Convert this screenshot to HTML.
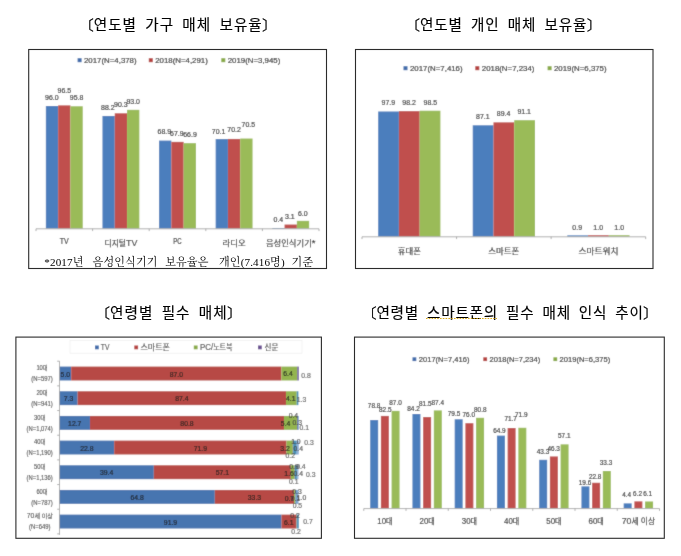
<!DOCTYPE html>
<html lang="ko"><head><meta charset="utf-8"><title>매체 보유율 및 필수 매체</title>
<style>
html,body{margin:0;padding:0;background:#fff;}
body{width:681px;height:556px;overflow:hidden;}
svg{display:block;font-family:'Liberation Sans','Noto Sans CJK KR',sans-serif;}
svg text{white-space:pre;}
svg .br{font-family:'NanumGothic','Noto Sans CJK KR',sans-serif;font-weight:400;}
</style></head><body>
<svg width="681" height="556" viewBox="0 0 681 556">
<filter id="soft" x="0" y="0" width="681" height="556" filterUnits="userSpaceOnUse"><feConvolveMatrix order="3" kernelMatrix="0.02 0.08 0.02 0.08 0.60 0.08 0.02 0.08 0.02" divisor="1" edgeMode="duplicate" preserveAlpha="true"/></filter>
<g filter="url(#soft)">
<rect x="-5" y="-5" width="691" height="566" fill="#ffffff"/>
<rect x="77.60" y="58.20" width="4.00" height="4.00" fill="#3f6cab" />
<text x="84.00" y="63.04" font-size="7.9" fill="#2b2b2b" stroke="#2b2b2b" stroke-width="0.18" textLength="52.60" lengthAdjust="spacingAndGlyphs" >2017(N=4,378)</text>
<rect x="148.80" y="58.20" width="4.00" height="4.00" fill="#b5403d" />
<text x="155.20" y="63.04" font-size="7.9" fill="#2b2b2b" stroke="#2b2b2b" stroke-width="0.18" textLength="52.60" lengthAdjust="spacingAndGlyphs" >2018(N=4,291)</text>
<rect x="221.30" y="58.20" width="4.00" height="4.00" fill="#88aa45" />
<text x="227.70" y="63.04" font-size="7.9" fill="#2b2b2b" stroke="#2b2b2b" stroke-width="0.18" textLength="52.60" lengthAdjust="spacingAndGlyphs" >2019(N=3,945)</text>
<rect x="45.85" y="106.00" width="12.30" height="122.50" fill="#4c7ebd" />
<rect x="58.15" y="105.37" width="12.30" height="123.13" fill="#c0504d" />
<rect x="70.45" y="106.26" width="12.30" height="122.24" fill="#9abb58" />
<rect x="102.45" y="115.96" width="12.30" height="112.54" fill="#4c7ebd" />
<rect x="114.75" y="113.28" width="12.30" height="115.22" fill="#c0504d" />
<rect x="127.05" y="109.83" width="12.30" height="118.67" fill="#9abb58" />
<rect x="159.05" y="140.58" width="12.30" height="87.92" fill="#4c7ebd" />
<rect x="171.35" y="141.86" width="12.30" height="86.64" fill="#c0504d" />
<rect x="183.65" y="143.14" width="12.30" height="85.36" fill="#9abb58" />
<rect x="215.65" y="139.05" width="12.30" height="89.45" fill="#4c7ebd" />
<rect x="227.95" y="138.92" width="12.30" height="89.58" fill="#c0504d" />
<rect x="240.25" y="138.54" width="12.30" height="89.96" fill="#9abb58" />
<rect x="272.25" y="227.99" width="12.30" height="0.51" fill="#4c7ebd" />
<rect x="284.55" y="224.54" width="12.30" height="3.96" fill="#c0504d" />
<rect x="296.85" y="220.84" width="12.30" height="7.66" fill="#9abb58" />
<line x1="36.00" y1="228.80" x2="319.00" y2="228.80" stroke="#9a9a9a" stroke-width="0.8"/>
<line x1="36.00" y1="228.80" x2="36.00" y2="231.10" stroke="#9a9a9a" stroke-width="0.8"/>
<line x1="92.60" y1="228.80" x2="92.60" y2="231.10" stroke="#9a9a9a" stroke-width="0.8"/>
<line x1="149.20" y1="228.80" x2="149.20" y2="231.10" stroke="#9a9a9a" stroke-width="0.8"/>
<line x1="205.80" y1="228.80" x2="205.80" y2="231.10" stroke="#9a9a9a" stroke-width="0.8"/>
<line x1="262.40" y1="228.80" x2="262.40" y2="231.10" stroke="#9a9a9a" stroke-width="0.8"/>
<line x1="319.00" y1="228.80" x2="319.00" y2="231.10" stroke="#9a9a9a" stroke-width="0.8"/>
<text x="51.80" y="99.60" font-size="7.5" text-anchor="middle" fill="#2f2f2f" stroke="#2f2f2f" stroke-width="0.18" textLength="13.57" lengthAdjust="spacingAndGlyphs" >96.0</text>
<text x="64.40" y="93.40" font-size="7.5" text-anchor="middle" fill="#2f2f2f" stroke="#2f2f2f" stroke-width="0.18" textLength="13.57" lengthAdjust="spacingAndGlyphs" >96.5</text>
<text x="76.60" y="100.00" font-size="7.5" text-anchor="middle" fill="#2f2f2f" stroke="#2f2f2f" stroke-width="0.18" textLength="13.57" lengthAdjust="spacingAndGlyphs" >95.8</text>
<text x="107.80" y="109.80" font-size="7.5" text-anchor="middle" fill="#2f2f2f" stroke="#2f2f2f" stroke-width="0.18" textLength="13.57" lengthAdjust="spacingAndGlyphs" >88.2</text>
<text x="120.80" y="107.10" font-size="7.5" text-anchor="middle" fill="#2f2f2f" stroke="#2f2f2f" stroke-width="0.18" textLength="13.57" lengthAdjust="spacingAndGlyphs" >90.3</text>
<text x="133.20" y="103.90" font-size="7.5" text-anchor="middle" fill="#2f2f2f" stroke="#2f2f2f" stroke-width="0.18" textLength="13.57" lengthAdjust="spacingAndGlyphs" >93.0</text>
<text x="164.30" y="134.10" font-size="7.5" text-anchor="middle" fill="#2f2f2f" stroke="#2f2f2f" stroke-width="0.18" textLength="13.57" lengthAdjust="spacingAndGlyphs" >68.9</text>
<text x="176.90" y="135.60" font-size="7.5" text-anchor="middle" fill="#2f2f2f" stroke="#2f2f2f" stroke-width="0.18" textLength="13.57" lengthAdjust="spacingAndGlyphs" >67.9</text>
<text x="190.00" y="136.70" font-size="7.5" text-anchor="middle" fill="#2f2f2f" stroke="#2f2f2f" stroke-width="0.18" textLength="13.57" lengthAdjust="spacingAndGlyphs" >66.9</text>
<text x="218.60" y="134.10" font-size="7.5" text-anchor="middle" fill="#2f2f2f" stroke="#2f2f2f" stroke-width="0.18" textLength="13.57" lengthAdjust="spacingAndGlyphs" >70.1</text>
<text x="234.10" y="132.30" font-size="7.5" text-anchor="middle" fill="#2f2f2f" stroke="#2f2f2f" stroke-width="0.18" textLength="13.57" lengthAdjust="spacingAndGlyphs" >70.2</text>
<text x="248.40" y="127.00" font-size="7.5" text-anchor="middle" fill="#2f2f2f" stroke="#2f2f2f" stroke-width="0.18" textLength="13.57" lengthAdjust="spacingAndGlyphs" >70.5</text>
<text x="278.40" y="222.20" font-size="7.5" text-anchor="middle" fill="#2f2f2f" stroke="#2f2f2f" stroke-width="0.18" textLength="9.70" lengthAdjust="spacingAndGlyphs" >0.4</text>
<text x="289.90" y="219.00" font-size="7.5" text-anchor="middle" fill="#2f2f2f" stroke="#2f2f2f" stroke-width="0.18" textLength="9.70" lengthAdjust="spacingAndGlyphs" >3.1</text>
<text x="302.80" y="215.80" font-size="7.5" text-anchor="middle" fill="#2f2f2f" stroke="#2f2f2f" stroke-width="0.18" textLength="9.70" lengthAdjust="spacingAndGlyphs" >6.0</text>
<text x="64.30" y="243.90" font-size="8.3" text-anchor="middle" fill="#333333" stroke="#333333" stroke-width="0.18" textLength="9.00" lengthAdjust="spacingAndGlyphs" >TV</text>
<text x="120.90" y="245.60" font-size="7.7" text-anchor="middle" fill="#333333" stroke="#333333" stroke-width="0.18" textLength="32.80" lengthAdjust="spacingAndGlyphs" >디지털<tspan font-size="8.70">TV</tspan></text>
<text x="177.50" y="243.90" font-size="8.3" text-anchor="middle" fill="#333333" stroke="#333333" stroke-width="0.18" textLength="8.40" lengthAdjust="spacingAndGlyphs" >PC</text>
<text x="234.10" y="245.60" font-size="7.7" text-anchor="middle" fill="#333333" stroke="#333333" stroke-width="0.18" textLength="23.00" lengthAdjust="spacingAndGlyphs" >라디오</text>
<text x="290.70" y="245.60" font-size="7.7" text-anchor="middle" fill="#333333" stroke="#333333" stroke-width="0.18" textLength="49.50" lengthAdjust="spacingAndGlyphs" >음성인식기기<tspan font-size="8.70">*</tspan></text>
<rect x="403.50" y="66.20" width="4.00" height="4.00" fill="#3f6cab" />
<text x="410.00" y="71.04" font-size="7.9" fill="#2b2b2b" stroke="#2b2b2b" stroke-width="0.18" textLength="52.60" lengthAdjust="spacingAndGlyphs" >2017(N=7,416)</text>
<rect x="475.30" y="66.20" width="4.00" height="4.00" fill="#b5403d" />
<text x="481.80" y="71.04" font-size="7.9" fill="#2b2b2b" stroke="#2b2b2b" stroke-width="0.18" textLength="52.60" lengthAdjust="spacingAndGlyphs" >2018(N=7,234)</text>
<rect x="547.60" y="66.20" width="4.00" height="4.00" fill="#88aa45" />
<text x="554.00" y="71.04" font-size="7.9" fill="#2b2b2b" stroke="#2b2b2b" stroke-width="0.18" textLength="52.60" lengthAdjust="spacingAndGlyphs" >2019(N=6,375)</text>
<rect x="378.16" y="111.48" width="20.75" height="125.02" fill="#4c7ebd" />
<rect x="398.91" y="111.10" width="20.75" height="125.40" fill="#c0504d" />
<rect x="419.66" y="110.72" width="20.75" height="125.78" fill="#9abb58" />
<rect x="472.73" y="125.27" width="20.75" height="111.23" fill="#4c7ebd" />
<rect x="493.48" y="122.34" width="20.75" height="114.16" fill="#c0504d" />
<rect x="514.23" y="120.17" width="20.75" height="116.33" fill="#9abb58" />
<rect x="567.29" y="235.35" width="20.75" height="1.15" fill="#4c7ebd" />
<rect x="588.04" y="235.22" width="20.75" height="1.28" fill="#c0504d" />
<rect x="608.79" y="235.22" width="20.75" height="1.28" fill="#9abb58" />
<line x1="362.00" y1="236.80" x2="645.70" y2="236.80" stroke="#9a9a9a" stroke-width="0.8"/>
<line x1="362.00" y1="236.80" x2="362.00" y2="239.10" stroke="#9a9a9a" stroke-width="0.8"/>
<line x1="456.57" y1="236.80" x2="456.57" y2="239.10" stroke="#9a9a9a" stroke-width="0.8"/>
<line x1="551.13" y1="236.80" x2="551.13" y2="239.10" stroke="#9a9a9a" stroke-width="0.8"/>
<line x1="645.70" y1="236.80" x2="645.70" y2="239.10" stroke="#9a9a9a" stroke-width="0.8"/>
<text x="388.40" y="105.00" font-size="7.5" text-anchor="middle" fill="#2f2f2f" stroke="#2f2f2f" stroke-width="0.18" textLength="13.57" lengthAdjust="spacingAndGlyphs" >97.9</text>
<text x="409.10" y="105.00" font-size="7.5" text-anchor="middle" fill="#2f2f2f" stroke="#2f2f2f" stroke-width="0.18" textLength="13.57" lengthAdjust="spacingAndGlyphs" >98.2</text>
<text x="430.40" y="105.00" font-size="7.5" text-anchor="middle" fill="#2f2f2f" stroke="#2f2f2f" stroke-width="0.18" textLength="13.57" lengthAdjust="spacingAndGlyphs" >98.5</text>
<text x="482.80" y="118.80" font-size="7.5" text-anchor="middle" fill="#2f2f2f" stroke="#2f2f2f" stroke-width="0.18" textLength="13.57" lengthAdjust="spacingAndGlyphs" >87.1</text>
<text x="503.60" y="115.80" font-size="7.5" text-anchor="middle" fill="#2f2f2f" stroke="#2f2f2f" stroke-width="0.18" textLength="13.57" lengthAdjust="spacingAndGlyphs" >89.4</text>
<text x="524.20" y="114.00" font-size="7.5" text-anchor="middle" fill="#2f2f2f" stroke="#2f2f2f" stroke-width="0.18" textLength="13.57" lengthAdjust="spacingAndGlyphs" >91.1</text>
<text x="577.20" y="230.00" font-size="7.5" text-anchor="middle" fill="#2f2f2f" stroke="#2f2f2f" stroke-width="0.18" textLength="9.70" lengthAdjust="spacingAndGlyphs" >0.9</text>
<text x="598.20" y="230.00" font-size="7.5" text-anchor="middle" fill="#2f2f2f" stroke="#2f2f2f" stroke-width="0.18" textLength="9.70" lengthAdjust="spacingAndGlyphs" >1.0</text>
<text x="619.20" y="230.00" font-size="7.5" text-anchor="middle" fill="#2f2f2f" stroke="#2f2f2f" stroke-width="0.18" textLength="9.70" lengthAdjust="spacingAndGlyphs" >1.0</text>
<text x="409.28" y="253.60" font-size="7.8" text-anchor="middle" fill="#333333" stroke="#333333" stroke-width="0.18" textLength="23.20" lengthAdjust="spacingAndGlyphs" >휴대폰</text>
<text x="503.85" y="253.60" font-size="7.8" text-anchor="middle" fill="#333333" stroke="#333333" stroke-width="0.18" textLength="31.00" lengthAdjust="spacingAndGlyphs" >스마트폰</text>
<text x="598.42" y="253.60" font-size="7.8" text-anchor="middle" fill="#333333" stroke="#333333" stroke-width="0.18" textLength="40.00" lengthAdjust="spacingAndGlyphs" >스마트워치</text>
<rect x="70" y="340.6" width="232" height="12.6" fill="#fff" stroke="#ececec" stroke-width="0.6"/>
<rect x="95.00" y="345.50" width="3.80" height="3.80" fill="#3f6cab" />
<text x="100.80" y="350.14" font-size="8.51" fill="#505050" stroke="#505050" stroke-width="0.18" textLength="8.60" lengthAdjust="spacingAndGlyphs" >TV</text>
<rect x="134.30" y="345.50" width="3.80" height="3.80" fill="#b5403d" />
<text x="140.50" y="350.14" font-size="7.6" fill="#505050" stroke="#505050" stroke-width="0.18" textLength="29.50" lengthAdjust="spacingAndGlyphs" >스마트폰</text>
<rect x="193.80" y="345.50" width="3.80" height="3.80" fill="#88aa45" />
<text x="200.00" y="350.14" font-size="7.6" fill="#505050" stroke="#505050" stroke-width="0.18" textLength="32.50" lengthAdjust="spacingAndGlyphs" ><tspan font-size="8.59">PC/</tspan>노트북</text>
<rect x="258.00" y="345.50" width="3.80" height="3.80" fill="#6a4f92" />
<text x="264.50" y="350.14" font-size="7.6" fill="#505050" stroke="#505050" stroke-width="0.18" textLength="13.80" lengthAdjust="spacingAndGlyphs" >신문</text>
<rect x="59.50" y="366.58" width="11.70" height="13.90" fill="#4674b0" />
<rect x="71.20" y="366.58" width="210.20" height="13.90" fill="#b74a44" />
<rect x="281.40" y="366.58" width="15.90" height="13.90" fill="#93b450" />
<rect x="297.30" y="366.58" width="1.50" height="13.90" fill="#6a5a96" />
<rect x="59.50" y="391.25" width="18.10" height="13.90" fill="#4674b0" />
<rect x="77.60" y="391.25" width="208.40" height="13.90" fill="#b74a44" />
<rect x="286.00" y="391.25" width="10.70" height="13.90" fill="#93b450" />
<rect x="296.70" y="391.25" width="1.70" height="13.90" fill="#4a91b5" />
<rect x="59.50" y="415.93" width="30.50" height="13.90" fill="#4674b0" />
<rect x="90.00" y="415.93" width="194.00" height="13.90" fill="#b74a44" />
<rect x="284.00" y="415.93" width="13.00" height="13.90" fill="#93b450" />
<rect x="297.00" y="415.93" width="0.80" height="13.90" fill="#6a5a96" />
<rect x="297.80" y="415.93" width="0.60" height="13.90" fill="#4a91b5" />
<rect x="298.40" y="415.93" width="0.40" height="13.90" fill="#5f8fc4" />
<rect x="59.50" y="440.59" width="54.70" height="13.90" fill="#4674b0" />
<rect x="114.20" y="440.59" width="172.30" height="13.90" fill="#b74a44" />
<rect x="286.50" y="440.59" width="6.30" height="13.90" fill="#93b450" />
<rect x="292.80" y="440.59" width="0.40" height="13.90" fill="#6a5a96" />
<rect x="293.20" y="440.59" width="3.20" height="13.90" fill="#4a91b5" />
<rect x="296.40" y="440.59" width="1.30" height="13.90" fill="#5f8fc4" />
<rect x="297.70" y="440.59" width="1.10" height="13.90" fill="#8fb0d8" />
<rect x="59.50" y="465.27" width="94.30" height="13.90" fill="#4674b0" />
<rect x="153.80" y="465.27" width="137.00" height="13.90" fill="#b74a44" />
<rect x="290.80" y="465.27" width="3.80" height="13.90" fill="#93b450" />
<rect x="294.60" y="465.27" width="0.30" height="13.90" fill="#6a5a96" />
<rect x="294.90" y="465.27" width="1.90" height="13.90" fill="#4a91b5" />
<rect x="296.80" y="465.27" width="0.80" height="13.90" fill="#5f8fc4" />
<rect x="297.60" y="465.27" width="0.70" height="13.90" fill="#8fb0d8" />
<rect x="298.30" y="465.27" width="0.50" height="13.90" fill="#b9cbe6" />
<rect x="59.50" y="489.94" width="155.30" height="13.90" fill="#4674b0" />
<rect x="214.80" y="489.94" width="79.30" height="13.90" fill="#b74a44" />
<rect x="294.10" y="489.94" width="1.30" height="13.90" fill="#93b450" />
<rect x="295.40" y="489.94" width="0.20" height="13.90" fill="#6a5a96" />
<rect x="295.60" y="489.94" width="0.60" height="13.90" fill="#4a91b5" />
<rect x="296.20" y="489.94" width="1.60" height="13.90" fill="#5f8fc4" />
<rect x="297.80" y="489.94" width="0.80" height="13.90" fill="#8fb0d8" />
<rect x="59.50" y="514.61" width="222.00" height="13.90" fill="#4674b0" />
<rect x="281.50" y="514.61" width="14.60" height="13.90" fill="#b74a44" />
<rect x="296.10" y="514.61" width="0.50" height="13.90" fill="#93b450" />
<rect x="296.60" y="514.61" width="0.50" height="13.90" fill="#6a5a96" />
<rect x="297.10" y="514.61" width="1.70" height="13.90" fill="#4a91b5" />
<line x1="59.50" y1="361.20" x2="59.50" y2="534.89" stroke="#9a9a9a" stroke-width="0.8"/>
<line x1="57.20" y1="361.20" x2="59.50" y2="361.20" stroke="#9a9a9a" stroke-width="0.8"/>
<line x1="57.20" y1="385.87" x2="59.50" y2="385.87" stroke="#9a9a9a" stroke-width="0.8"/>
<line x1="57.20" y1="410.54" x2="59.50" y2="410.54" stroke="#9a9a9a" stroke-width="0.8"/>
<line x1="57.20" y1="435.21" x2="59.50" y2="435.21" stroke="#9a9a9a" stroke-width="0.8"/>
<line x1="57.20" y1="459.88" x2="59.50" y2="459.88" stroke="#9a9a9a" stroke-width="0.8"/>
<line x1="57.20" y1="484.55" x2="59.50" y2="484.55" stroke="#9a9a9a" stroke-width="0.8"/>
<line x1="57.20" y1="509.22" x2="59.50" y2="509.22" stroke="#9a9a9a" stroke-width="0.8"/>
<line x1="57.20" y1="533.89" x2="59.50" y2="533.89" stroke="#9a9a9a" stroke-width="0.8"/>
<text x="42.00" y="370.33" font-size="6.2" text-anchor="middle" fill="#4a4a4a" stroke="#4a4a4a" stroke-width="0.12" textLength="11.20" lengthAdjust="spacingAndGlyphs" ><tspan font-size="7.01">10</tspan>대</text>
<text x="42.00" y="381.33" font-size="6.9" text-anchor="middle" fill="#4a4a4a" stroke="#4a4a4a" stroke-width="0.12" textLength="21.60" lengthAdjust="spacingAndGlyphs" >(N=597)</text>
<text x="42.00" y="395.00" font-size="6.2" text-anchor="middle" fill="#4a4a4a" stroke="#4a4a4a" stroke-width="0.12" textLength="11.20" lengthAdjust="spacingAndGlyphs" ><tspan font-size="7.01">20</tspan>대</text>
<text x="42.00" y="406.00" font-size="6.9" text-anchor="middle" fill="#4a4a4a" stroke="#4a4a4a" stroke-width="0.12" textLength="21.60" lengthAdjust="spacingAndGlyphs" >(N=941)</text>
<text x="39.70" y="419.68" font-size="6.2" text-anchor="middle" fill="#4a4a4a" stroke="#4a4a4a" stroke-width="0.12" textLength="11.20" lengthAdjust="spacingAndGlyphs" ><tspan font-size="7.01">30</tspan>대</text>
<text x="39.70" y="430.68" font-size="6.9" text-anchor="middle" fill="#4a4a4a" stroke="#4a4a4a" stroke-width="0.12" textLength="26.20" lengthAdjust="spacingAndGlyphs" >(N=1,074)</text>
<text x="39.70" y="444.34" font-size="6.2" text-anchor="middle" fill="#4a4a4a" stroke="#4a4a4a" stroke-width="0.12" textLength="11.20" lengthAdjust="spacingAndGlyphs" ><tspan font-size="7.01">40</tspan>대</text>
<text x="39.70" y="455.34" font-size="6.9" text-anchor="middle" fill="#4a4a4a" stroke="#4a4a4a" stroke-width="0.12" textLength="26.20" lengthAdjust="spacingAndGlyphs" >(N=1,190)</text>
<text x="39.70" y="469.02" font-size="6.2" text-anchor="middle" fill="#4a4a4a" stroke="#4a4a4a" stroke-width="0.12" textLength="11.20" lengthAdjust="spacingAndGlyphs" ><tspan font-size="7.01">50</tspan>대</text>
<text x="39.70" y="480.02" font-size="6.9" text-anchor="middle" fill="#4a4a4a" stroke="#4a4a4a" stroke-width="0.12" textLength="26.20" lengthAdjust="spacingAndGlyphs" >(N=1,136)</text>
<text x="42.00" y="493.69" font-size="6.2" text-anchor="middle" fill="#4a4a4a" stroke="#4a4a4a" stroke-width="0.12" textLength="11.20" lengthAdjust="spacingAndGlyphs" ><tspan font-size="7.01">60</tspan>대</text>
<text x="42.00" y="504.69" font-size="6.9" text-anchor="middle" fill="#4a4a4a" stroke="#4a4a4a" stroke-width="0.12" textLength="21.60" lengthAdjust="spacingAndGlyphs" >(N=787)</text>
<text x="39.80" y="518.36" font-size="6.2" text-anchor="middle" fill="#4a4a4a" stroke="#4a4a4a" stroke-width="0.12" textLength="26.00" lengthAdjust="spacingAndGlyphs" ><tspan font-size="7.01">70</tspan>세 이상</text>
<text x="39.80" y="529.36" font-size="6.9" text-anchor="middle" fill="#4a4a4a" stroke="#4a4a4a" stroke-width="0.12" textLength="21.60" lengthAdjust="spacingAndGlyphs" >(N=649)</text>
<text x="65.35" y="376.63" font-size="7.3" text-anchor="middle" fill="#1e1e1e" stroke="#1e1e1e" stroke-width="0.18" textLength="9.51" lengthAdjust="spacingAndGlyphs" fill-opacity="0.88">5.0</text>
<text x="176.30" y="376.63" font-size="7.3" text-anchor="middle" fill="#1e1e1e" stroke="#1e1e1e" stroke-width="0.18" textLength="13.31" lengthAdjust="spacingAndGlyphs" fill-opacity="0.88">87.0</text>
<text x="68.55" y="401.31" font-size="7.3" text-anchor="middle" fill="#1e1e1e" stroke="#1e1e1e" stroke-width="0.18" textLength="9.51" lengthAdjust="spacingAndGlyphs" fill-opacity="0.88">7.3</text>
<text x="181.80" y="401.31" font-size="7.3" text-anchor="middle" fill="#1e1e1e" stroke="#1e1e1e" stroke-width="0.18" textLength="13.31" lengthAdjust="spacingAndGlyphs" fill-opacity="0.88">87.4</text>
<text x="74.75" y="425.98" font-size="7.3" text-anchor="middle" fill="#1e1e1e" stroke="#1e1e1e" stroke-width="0.18" textLength="13.31" lengthAdjust="spacingAndGlyphs" fill-opacity="0.88">12.7</text>
<text x="187.00" y="425.98" font-size="7.3" text-anchor="middle" fill="#1e1e1e" stroke="#1e1e1e" stroke-width="0.18" textLength="13.31" lengthAdjust="spacingAndGlyphs" fill-opacity="0.88">80.8</text>
<text x="86.85" y="450.64" font-size="7.3" text-anchor="middle" fill="#1e1e1e" stroke="#1e1e1e" stroke-width="0.18" textLength="13.31" lengthAdjust="spacingAndGlyphs" fill-opacity="0.88">22.8</text>
<text x="200.35" y="450.64" font-size="7.3" text-anchor="middle" fill="#1e1e1e" stroke="#1e1e1e" stroke-width="0.18" textLength="13.31" lengthAdjust="spacingAndGlyphs" fill-opacity="0.88">71.9</text>
<text x="106.65" y="475.32" font-size="7.3" text-anchor="middle" fill="#1e1e1e" stroke="#1e1e1e" stroke-width="0.18" textLength="13.31" lengthAdjust="spacingAndGlyphs" fill-opacity="0.88">39.4</text>
<text x="222.30" y="475.32" font-size="7.3" text-anchor="middle" fill="#1e1e1e" stroke="#1e1e1e" stroke-width="0.18" textLength="13.31" lengthAdjust="spacingAndGlyphs" fill-opacity="0.88">57.1</text>
<text x="137.15" y="499.99" font-size="7.3" text-anchor="middle" fill="#1e1e1e" stroke="#1e1e1e" stroke-width="0.18" textLength="13.31" lengthAdjust="spacingAndGlyphs" fill-opacity="0.88">64.8</text>
<text x="254.45" y="499.99" font-size="7.3" text-anchor="middle" fill="#1e1e1e" stroke="#1e1e1e" stroke-width="0.18" textLength="13.31" lengthAdjust="spacingAndGlyphs" fill-opacity="0.88">33.3</text>
<text x="170.50" y="524.66" font-size="7.3" text-anchor="middle" fill="#1e1e1e" stroke="#1e1e1e" stroke-width="0.18" textLength="13.31" lengthAdjust="spacingAndGlyphs" fill-opacity="0.88">91.9</text>
<text x="288.80" y="524.66" font-size="7.3" text-anchor="middle" fill="#1e1e1e" stroke="#1e1e1e" stroke-width="0.18" textLength="9.51" lengthAdjust="spacingAndGlyphs" fill-opacity="0.88">6.1</text>
<text x="288.00" y="375.80" font-size="7.2" text-anchor="middle" fill="#1e1e1e" stroke="#1e1e1e" stroke-width="0.18" textLength="9.51" lengthAdjust="spacingAndGlyphs" fill-opacity="0.9">6.4</text>
<text x="306.00" y="377.60" font-size="7.2" text-anchor="middle" fill="#555" stroke="#555" stroke-width="0.18" textLength="9.51" lengthAdjust="spacingAndGlyphs" fill-opacity="0.9">0.8</text>
<text x="290.70" y="401.30" font-size="7.2" text-anchor="middle" fill="#1e1e1e" stroke="#1e1e1e" stroke-width="0.18" textLength="9.51" lengthAdjust="spacingAndGlyphs" fill-opacity="0.9">4.1</text>
<text x="301.50" y="402.40" font-size="7.2" text-anchor="middle" fill="#555" stroke="#555" stroke-width="0.18" textLength="9.51" lengthAdjust="spacingAndGlyphs" fill-opacity="0.9">1.3</text>
<text x="293.40" y="418.40" font-size="7.2" text-anchor="middle" fill="#444" stroke="#444" stroke-width="0.18" textLength="9.51" lengthAdjust="spacingAndGlyphs" fill-opacity="0.9">0.4</text>
<text x="285.60" y="425.90" font-size="7.2" text-anchor="middle" fill="#1e1e1e" stroke="#1e1e1e" stroke-width="0.18" textLength="9.51" lengthAdjust="spacingAndGlyphs" fill-opacity="0.9">5.4</text>
<text x="297.20" y="424.90" font-size="7.2" text-anchor="middle" fill="#444" stroke="#444" stroke-width="0.18" textLength="9.51" lengthAdjust="spacingAndGlyphs" fill-opacity="0.9">0.3</text>
<text x="304.20" y="430.30" font-size="7.2" text-anchor="middle" fill="#555" stroke="#555" stroke-width="0.18" textLength="9.51" lengthAdjust="spacingAndGlyphs" fill-opacity="0.9">0.1</text>
<text x="295.90" y="444.30" font-size="7.2" text-anchor="middle" fill="#444" stroke="#444" stroke-width="0.18" textLength="9.51" lengthAdjust="spacingAndGlyphs" fill-opacity="0.9">1.0</text>
<text x="309.00" y="444.60" font-size="7.2" text-anchor="middle" fill="#555" stroke="#555" stroke-width="0.18" textLength="9.51" lengthAdjust="spacingAndGlyphs" fill-opacity="0.9">0.3</text>
<text x="285.10" y="450.70" font-size="7.2" text-anchor="middle" fill="#1e1e1e" stroke="#1e1e1e" stroke-width="0.18" textLength="9.51" lengthAdjust="spacingAndGlyphs" fill-opacity="0.9">3.2</text>
<text x="298.20" y="450.60" font-size="7.2" text-anchor="middle" fill="#444" stroke="#444" stroke-width="0.18" textLength="9.51" lengthAdjust="spacingAndGlyphs" fill-opacity="0.9">0.4</text>
<text x="290.20" y="457.80" font-size="7.2" text-anchor="middle" fill="#555" stroke="#555" stroke-width="0.18" textLength="9.51" lengthAdjust="spacingAndGlyphs" fill-opacity="0.9">0.2</text>
<text x="294.00" y="468.90" font-size="7.2" text-anchor="middle" fill="#444" stroke="#444" stroke-width="0.18" textLength="9.51" lengthAdjust="spacingAndGlyphs" fill-opacity="0.9">0.9</text>
<text x="300.90" y="469.30" font-size="7.2" text-anchor="middle" fill="#555" stroke="#555" stroke-width="0.18" textLength="9.51" lengthAdjust="spacingAndGlyphs" fill-opacity="0.9">0.4</text>
<text x="289.10" y="475.90" font-size="7.2" text-anchor="middle" fill="#1e1e1e" stroke="#1e1e1e" stroke-width="0.18" textLength="9.51" lengthAdjust="spacingAndGlyphs" fill-opacity="0.9">1.6</text>
<text x="298.20" y="475.90" font-size="7.2" text-anchor="middle" fill="#444" stroke="#444" stroke-width="0.18" textLength="9.51" lengthAdjust="spacingAndGlyphs" fill-opacity="0.9">0.4</text>
<text x="310.70" y="476.50" font-size="7.2" text-anchor="middle" fill="#555" stroke="#555" stroke-width="0.18" textLength="9.51" lengthAdjust="spacingAndGlyphs" fill-opacity="0.9">0.3</text>
<text x="293.70" y="483.50" font-size="7.2" text-anchor="middle" fill="#555" stroke="#555" stroke-width="0.18" textLength="9.51" lengthAdjust="spacingAndGlyphs" fill-opacity="0.9">0.1</text>
<text x="297.00" y="494.30" font-size="7.2" text-anchor="middle" fill="#444" stroke="#444" stroke-width="0.18" textLength="9.51" lengthAdjust="spacingAndGlyphs" fill-opacity="0.9">0.3</text>
<text x="289.40" y="500.70" font-size="7.2" text-anchor="middle" fill="#1e1e1e" stroke="#1e1e1e" stroke-width="0.18" textLength="9.51" lengthAdjust="spacingAndGlyphs" fill-opacity="0.9">0.7</text>
<text x="295.60" y="500.50" font-size="7.2" text-anchor="middle" fill="#444" stroke="#444" stroke-width="0.18" textLength="9.51" lengthAdjust="spacingAndGlyphs" fill-opacity="0.9">0.1</text>
<text x="301.50" y="500.20" font-size="7.2" text-anchor="middle" fill="#444" stroke="#444" stroke-width="0.18" textLength="9.51" lengthAdjust="spacingAndGlyphs" fill-opacity="0.9">1.0</text>
<text x="297.40" y="507.80" font-size="7.2" text-anchor="middle" fill="#555" stroke="#555" stroke-width="0.18" textLength="9.51" lengthAdjust="spacingAndGlyphs" fill-opacity="0.9">0.5</text>
<text x="295.10" y="518.00" font-size="7.2" text-anchor="middle" fill="#444" stroke="#444" stroke-width="0.18" textLength="9.51" lengthAdjust="spacingAndGlyphs" fill-opacity="0.9">0.2</text>
<text x="308.00" y="524.30" font-size="7.2" text-anchor="middle" fill="#555" stroke="#555" stroke-width="0.18" textLength="9.51" lengthAdjust="spacingAndGlyphs" fill-opacity="0.9">0.7</text>
<text x="296.10" y="534.00" font-size="7.2" text-anchor="middle" fill="#555" stroke="#555" stroke-width="0.18" textLength="9.51" lengthAdjust="spacingAndGlyphs" fill-opacity="0.9">0.2</text>
<rect x="412.50" y="357.30" width="3.80" height="3.80" fill="#3f6cab" />
<text x="418.80" y="361.94" font-size="7.6" fill="#2b2b2b" stroke="#2b2b2b" stroke-width="0.18" textLength="50.60" lengthAdjust="spacingAndGlyphs" >2017(N=7,416)</text>
<rect x="483.30" y="357.30" width="3.80" height="3.80" fill="#b5403d" />
<text x="489.60" y="361.94" font-size="7.6" fill="#2b2b2b" stroke="#2b2b2b" stroke-width="0.18" textLength="50.60" lengthAdjust="spacingAndGlyphs" >2018(N=7,234)</text>
<rect x="553.40" y="357.30" width="3.80" height="3.80" fill="#88aa45" />
<text x="559.60" y="361.94" font-size="7.6" fill="#2b2b2b" stroke="#2b2b2b" stroke-width="0.18" textLength="50.60" lengthAdjust="spacingAndGlyphs" >2019(N=6,375)</text>
<rect x="370.18" y="420.04" width="8.00" height="88.26" fill="#4c7ebd" />
<rect x="380.88" y="415.90" width="8.00" height="92.40" fill="#c0504d" />
<rect x="391.57" y="410.86" width="8.00" height="97.44" fill="#9abb58" />
<rect x="412.43" y="414.00" width="8.00" height="94.30" fill="#4c7ebd" />
<rect x="423.12" y="417.02" width="8.00" height="91.28" fill="#c0504d" />
<rect x="433.82" y="410.41" width="8.00" height="97.89" fill="#9abb58" />
<rect x="454.68" y="419.26" width="8.00" height="89.04" fill="#4c7ebd" />
<rect x="465.38" y="423.18" width="8.00" height="85.12" fill="#c0504d" />
<rect x="476.07" y="417.80" width="8.00" height="90.50" fill="#9abb58" />
<rect x="496.93" y="435.61" width="8.00" height="72.69" fill="#4c7ebd" />
<rect x="507.62" y="428.00" width="8.00" height="80.30" fill="#c0504d" />
<rect x="518.33" y="427.77" width="8.00" height="80.53" fill="#9abb58" />
<rect x="539.17" y="459.80" width="8.00" height="48.50" fill="#4c7ebd" />
<rect x="549.88" y="456.44" width="8.00" height="51.86" fill="#c0504d" />
<rect x="560.58" y="444.35" width="8.00" height="63.95" fill="#9abb58" />
<rect x="581.42" y="486.35" width="8.00" height="21.95" fill="#4c7ebd" />
<rect x="592.12" y="482.76" width="8.00" height="25.54" fill="#c0504d" />
<rect x="602.83" y="471.00" width="8.00" height="37.30" fill="#9abb58" />
<rect x="623.67" y="503.37" width="8.00" height="4.93" fill="#4c7ebd" />
<rect x="634.38" y="501.36" width="8.00" height="6.94" fill="#c0504d" />
<rect x="645.08" y="501.47" width="8.00" height="6.83" fill="#9abb58" />
<line x1="363.75" y1="508.60" x2="659.50" y2="508.60" stroke="#9a9a9a" stroke-width="0.8"/>
<line x1="363.75" y1="508.60" x2="363.75" y2="510.90" stroke="#9a9a9a" stroke-width="0.8"/>
<line x1="406.00" y1="508.60" x2="406.00" y2="510.90" stroke="#9a9a9a" stroke-width="0.8"/>
<line x1="448.25" y1="508.60" x2="448.25" y2="510.90" stroke="#9a9a9a" stroke-width="0.8"/>
<line x1="490.50" y1="508.60" x2="490.50" y2="510.90" stroke="#9a9a9a" stroke-width="0.8"/>
<line x1="532.75" y1="508.60" x2="532.75" y2="510.90" stroke="#9a9a9a" stroke-width="0.8"/>
<line x1="575.00" y1="508.60" x2="575.00" y2="510.90" stroke="#9a9a9a" stroke-width="0.8"/>
<line x1="617.25" y1="508.60" x2="617.25" y2="510.90" stroke="#9a9a9a" stroke-width="0.8"/>
<line x1="659.50" y1="508.60" x2="659.50" y2="510.90" stroke="#9a9a9a" stroke-width="0.8"/>
<text x="374.10" y="407.93" font-size="7.4" text-anchor="middle" fill="#2f2f2f" stroke="#2f2f2f" stroke-width="0.18" textLength="12.53" lengthAdjust="spacingAndGlyphs" >78.8</text>
<text x="385.30" y="412.43" font-size="7.4" text-anchor="middle" fill="#2f2f2f" stroke="#2f2f2f" stroke-width="0.18" textLength="12.53" lengthAdjust="spacingAndGlyphs" >82.5</text>
<text x="395.50" y="404.93" font-size="7.4" text-anchor="middle" fill="#2f2f2f" stroke="#2f2f2f" stroke-width="0.18" textLength="12.53" lengthAdjust="spacingAndGlyphs" >87.0</text>
<text x="413.50" y="411.23" font-size="7.4" text-anchor="middle" fill="#2f2f2f" stroke="#2f2f2f" stroke-width="0.18" textLength="12.53" lengthAdjust="spacingAndGlyphs" >84.2</text>
<text x="425.30" y="406.23" font-size="7.4" text-anchor="middle" fill="#2f2f2f" stroke="#2f2f2f" stroke-width="0.18" textLength="12.53" lengthAdjust="spacingAndGlyphs" >81.5</text>
<text x="437.80" y="404.93" font-size="7.4" text-anchor="middle" fill="#2f2f2f" stroke="#2f2f2f" stroke-width="0.18" textLength="12.53" lengthAdjust="spacingAndGlyphs" >87.4</text>
<text x="454.00" y="415.73" font-size="7.4" text-anchor="middle" fill="#2f2f2f" stroke="#2f2f2f" stroke-width="0.18" textLength="12.53" lengthAdjust="spacingAndGlyphs" >79.5</text>
<text x="468.80" y="416.73" font-size="7.4" text-anchor="middle" fill="#2f2f2f" stroke="#2f2f2f" stroke-width="0.18" textLength="12.53" lengthAdjust="spacingAndGlyphs" >76.0</text>
<text x="480.30" y="411.93" font-size="7.4" text-anchor="middle" fill="#2f2f2f" stroke="#2f2f2f" stroke-width="0.18" textLength="12.53" lengthAdjust="spacingAndGlyphs" >80.8</text>
<text x="499.40" y="433.13" font-size="7.4" text-anchor="middle" fill="#2f2f2f" stroke="#2f2f2f" stroke-width="0.18" textLength="12.53" lengthAdjust="spacingAndGlyphs" >64.9</text>
<text x="510.70" y="421.33" font-size="7.4" text-anchor="middle" fill="#2f2f2f" stroke="#2f2f2f" stroke-width="0.18" textLength="12.53" lengthAdjust="spacingAndGlyphs" >71.7</text>
<text x="521.30" y="416.53" font-size="7.4" text-anchor="middle" fill="#2f2f2f" stroke="#2f2f2f" stroke-width="0.18" textLength="12.53" lengthAdjust="spacingAndGlyphs" >71.9</text>
<text x="543.00" y="454.13" font-size="7.4" text-anchor="middle" fill="#2f2f2f" stroke="#2f2f2f" stroke-width="0.18" textLength="12.53" lengthAdjust="spacingAndGlyphs" >43.3</text>
<text x="553.70" y="450.83" font-size="7.4" text-anchor="middle" fill="#2f2f2f" stroke="#2f2f2f" stroke-width="0.18" textLength="12.53" lengthAdjust="spacingAndGlyphs" >46.3</text>
<text x="564.30" y="438.23" font-size="7.4" text-anchor="middle" fill="#2f2f2f" stroke="#2f2f2f" stroke-width="0.18" textLength="12.53" lengthAdjust="spacingAndGlyphs" >57.1</text>
<text x="585.00" y="484.73" font-size="7.4" text-anchor="middle" fill="#2f2f2f" stroke="#2f2f2f" stroke-width="0.18" textLength="12.53" lengthAdjust="spacingAndGlyphs" >19.6</text>
<text x="595.20" y="479.23" font-size="7.4" text-anchor="middle" fill="#2f2f2f" stroke="#2f2f2f" stroke-width="0.18" textLength="12.53" lengthAdjust="spacingAndGlyphs" >22.8</text>
<text x="606.00" y="465.13" font-size="7.4" text-anchor="middle" fill="#2f2f2f" stroke="#2f2f2f" stroke-width="0.18" textLength="12.53" lengthAdjust="spacingAndGlyphs" >33.3</text>
<text x="626.70" y="497.33" font-size="7.4" text-anchor="middle" fill="#2f2f2f" stroke="#2f2f2f" stroke-width="0.18" textLength="8.95" lengthAdjust="spacingAndGlyphs" >4.4</text>
<text x="637.50" y="495.53" font-size="7.4" text-anchor="middle" fill="#2f2f2f" stroke="#2f2f2f" stroke-width="0.18" textLength="8.95" lengthAdjust="spacingAndGlyphs" >6.2</text>
<text x="647.60" y="495.53" font-size="7.4" text-anchor="middle" fill="#2f2f2f" stroke="#2f2f2f" stroke-width="0.18" textLength="8.95" lengthAdjust="spacingAndGlyphs" >6.1</text>
<text x="384.88" y="523.90" font-size="8.0" text-anchor="middle" fill="#333333" stroke="#333333" stroke-width="0.18" textLength="15.20" lengthAdjust="spacingAndGlyphs" ><tspan font-size="9.04">10</tspan>대</text>
<text x="427.12" y="523.90" font-size="8.0" text-anchor="middle" fill="#333333" stroke="#333333" stroke-width="0.18" textLength="15.20" lengthAdjust="spacingAndGlyphs" ><tspan font-size="9.04">20</tspan>대</text>
<text x="469.38" y="523.90" font-size="8.0" text-anchor="middle" fill="#333333" stroke="#333333" stroke-width="0.18" textLength="15.20" lengthAdjust="spacingAndGlyphs" ><tspan font-size="9.04">30</tspan>대</text>
<text x="511.62" y="523.90" font-size="8.0" text-anchor="middle" fill="#333333" stroke="#333333" stroke-width="0.18" textLength="15.20" lengthAdjust="spacingAndGlyphs" ><tspan font-size="9.04">40</tspan>대</text>
<text x="553.88" y="523.90" font-size="8.0" text-anchor="middle" fill="#333333" stroke="#333333" stroke-width="0.18" textLength="15.20" lengthAdjust="spacingAndGlyphs" ><tspan font-size="9.04">50</tspan>대</text>
<text x="596.12" y="523.90" font-size="8.0" text-anchor="middle" fill="#333333" stroke="#333333" stroke-width="0.18" textLength="15.20" lengthAdjust="spacingAndGlyphs" ><tspan font-size="9.04">60</tspan>대</text>
<text x="638.38" y="523.90" font-size="8.0" text-anchor="middle" fill="#333333" stroke="#333333" stroke-width="0.18" textLength="33.50" lengthAdjust="spacingAndGlyphs" ><tspan font-size="9.04">70</tspan>세 이상</text>
</g>
<text x="177.30" y="30.10" font-size="14.6" text-anchor="middle" fill="#000" stroke="#000" stroke-width="0.14" font-weight="400" letter-spacing="1.0" word-spacing="3.2" class="ttl"><tspan class="br" stroke-width="0.4" dx="1.2">〔</tspan><tspan dx="-1.2">연도별 가구 매체 보유율</tspan><tspan class="br" stroke-width="0.4" dx="-0.9">〕</tspan></text>
<rect x="28.70" y="49.50" width="297.80" height="219.00" fill="none" stroke="#2b2b2b" stroke-width="1.1"/>
<text y="265.6" font-size="11.1" fill="#000" letter-spacing="0.12" font-family="'Liberation Serif','Noto Serif CJK SC',serif"><tspan x="44.3">*2017년 </tspan><tspan x="92.6">음성인식기기 </tspan><tspan x="165.2">보유율은 </tspan><tspan x="219">개인(7.416명) </tspan><tspan x="291.6">기준</tspan></text>
<text x="502.70" y="30.10" font-size="14.6" text-anchor="middle" fill="#000" stroke="#000" stroke-width="0.14" font-weight="400" letter-spacing="0.87" word-spacing="3.2" class="ttl"><tspan class="br" stroke-width="0.4" dx="1.2">〔</tspan><tspan dx="-1.2">연도별 개인 매체 보유율</tspan><tspan class="br" stroke-width="0.4" dx="-0.9">〕</tspan></text>
<rect x="355.50" y="49.50" width="297.50" height="219.00" fill="none" stroke="#2b2b2b" stroke-width="1.1"/>
<text x="167.90" y="317.80" font-size="14.6" text-anchor="middle" fill="#000" stroke="#000" stroke-width="0.14" font-weight="400" letter-spacing="1.0" word-spacing="3.2" class="ttl"><tspan class="br" stroke-width="0.4" dx="1.2">〔</tspan><tspan dx="-1.2">연령별 필수 매체</tspan><tspan class="br" stroke-width="0.4" dx="-0.9">〕</tspan></text>
<rect x="15.90" y="337.10" width="305.50" height="201.20" fill="none" stroke="#2b2b2b" stroke-width="1.1"/>
<text x="509.10" y="317.80" font-size="14.6" text-anchor="middle" fill="#000" stroke="#000" stroke-width="0.14" font-weight="400" letter-spacing="0.77" word-spacing="3.2" class="ttl"><tspan class="br" stroke-width="0.4" dx="1.2">〔</tspan><tspan dx="-1.2">연령별 스마트폰의 필수 매체 인식 추이</tspan><tspan class="br" stroke-width="0.4" dx="-0.9">〕</tspan></text>
<line x1="426" y1="318.5" x2="497" y2="318.5" stroke="#d9a300" stroke-width="0.9" stroke-dasharray="1.6 1.2"/>
<rect x="354.50" y="337.10" width="309.80" height="201.20" fill="none" stroke="#2b2b2b" stroke-width="1.1"/>
</svg>
</body></html>
